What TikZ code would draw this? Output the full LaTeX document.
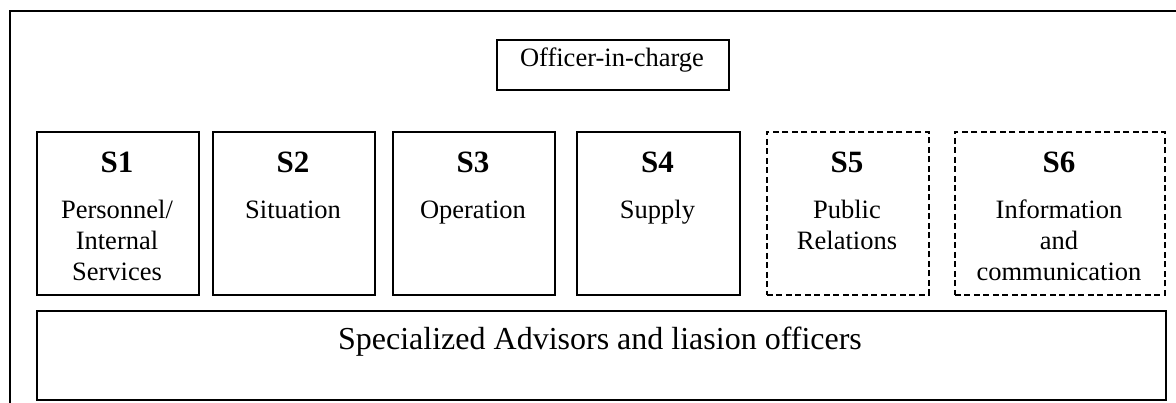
\documentclass[tikz,border=0pt]{standalone}
\usepackage{fontspec}
\setmainfont{Liberation Serif}
\begin{document}
\begin{tikzpicture}[x=1pt,y=-1pt,
  frameline/.style={draw, line width=1.9pt},
  sbox/.style={draw, line width=1.6pt, anchor=north west, inner sep=0pt},
  dbox/.style={sbox, dash pattern=on 6pt off 3.5pt},
  slabel/.style={anchor=base, font=\fontsize{31}{31}\selectfont\bfseries, inner sep=0pt},
  body/.style={anchor=base, align=center, font=\fontsize{26.5}{31}\selectfont, inner sep=0pt},
  big/.style={anchor=base, font=\fontsize{32}{36}\selectfont, inner sep=0pt},
]
\useasboundingbox (0,0) rectangle (1176,403);
\begin{scope}
\clip (0,0) rectangle (1176,403);
\coordinate (fbl) at (10,430);
\coordinate (ftl) at (10,11);
\coordinate (ftr) at (1200,11);
\draw[frameline] (fbl) -- (ftl) -- (ftr);
\end{scope}

% Officer-in-charge
\node[sbox, minimum width=232pt, minimum height=50pt] (oic) at (496,39) {};
\node[body] (oict) at (612,67) {Officer-in-charge};

% S boxes
\node[sbox, minimum width=162pt, minimum height=163pt] (s1) at (36,131) {};
\node[sbox, minimum width=162pt, minimum height=163pt] (s2) at (212,131) {};
\node[sbox, minimum width=162pt, minimum height=163pt] (s3) at (392,131) {};
\node[sbox, minimum width=163pt, minimum height=163pt] (s4) at (576,131) {};
\node[dbox, minimum width=162pt, minimum height=163pt] (s5) at (766,131) {};
\node[dbox, minimum width=210pt, minimum height=163pt] (s6) at (954,131) {};

\node[slabel] (l1) at (117,173) {S1};
\node[slabel] (l2) at (293,173) {S2};
\node[slabel] (l3) at (473,173) {S3};
\node[slabel] (l4) at (657.5,173) {S4};
\node[slabel] (l5) at (847,173) {S5};
\node[slabel] (l6) at (1059,173) {S6};

% base anchor of a multi-line node is the baseline of its last line
\node[body] (t1) at (117,281) {Personnel/\\Internal\\Services};
\node[body] (t2) at (293,219) {Situation};
\node[body] (t3) at (473,219) {Operation};
\node[body] (t4) at (657.5,219) {Supply};
\node[body] (t5) at (847,250) {Public\\Relations};
\node[body] (t6) at (1059,281) {Information\\and\\communication};

% Specialized advisors
\node[sbox, minimum width=1129pt, minimum height=89pt] (sa) at (36,310) {};
\node[big] (sat) at (600,350) {Specialized Advisors and liasion officers};
\end{tikzpicture}
\end{document}
